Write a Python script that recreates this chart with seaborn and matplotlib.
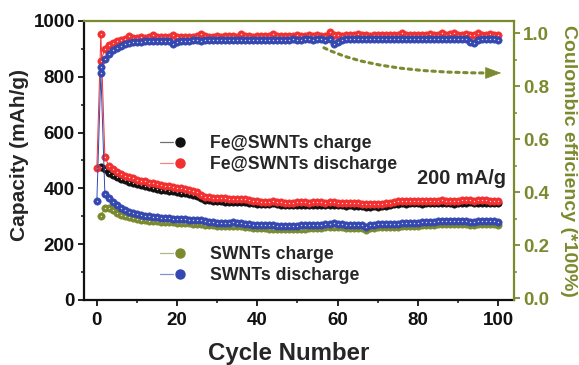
import numpy as np
import pandas as pd
import seaborn as sns
import matplotlib.pyplot as plt
from matplotlib.lines import Line2D
from matplotlib.ticker import MultipleLocator
from matplotlib.legend_handler import HandlerTuple

sns.set_style('ticks')
plt.rcParams['font.family'] = ['Liberation Sans', 'DejaVu Sans']
plt.rcParams['font.weight'] = 'bold'

olive = '#7b8a2e'
red = '#f2302f'
blue = '#3548b0'
black = '#111111'

# cycles: discharge starts at 0, charge / efficiency at 1
cycle_dis = list(range(0, 101))
cycle_ch = list(range(1, 101))

fe_dis = [474, 955, 512, 480, 468, 460, 452, 446, 441, 436,
          431, 428, 425, 421, 418, 415, 412, 409, 407, 405,
          402, 400, 398, 395, 392, 388, 376, 369, 368, 367,
          366, 365, 364, 362, 361, 362, 363, 362, 359, 356,
          354, 352, 351, 353, 355, 352, 350, 349, 348, 349,
          350, 351, 350, 349, 350, 351, 350, 349, 350, 351,
          349, 348, 347, 348, 347, 346, 345, 344, 344, 345,
          344, 345, 346, 347, 352, 354, 355, 354, 355, 356,
          355, 354, 355, 356, 355, 356, 357, 356, 355, 354,
          356, 357, 358, 360, 356, 357, 358, 357, 356, 355,
          354]

fe_ch = [477, 470, 456, 448, 441, 434, 429, 424, 419, 415,
         412, 409, 405, 402, 399, 396, 393, 391, 389, 387,
         385, 383, 380, 377, 374, 364, 358, 357, 356, 355,
         354, 353, 352, 351, 352, 353, 352, 349, 347, 345,
         344, 343, 344, 346, 344, 342, 341, 340, 341, 342,
         342, 341, 340, 341, 342, 341, 340, 341, 342, 340,
         339, 338, 339, 338, 337, 336, 335, 335, 336, 335,
         336, 337, 340, 344, 345, 346, 345, 346, 347, 346,
         345, 346, 347, 346, 347, 348, 347, 346, 345, 347,
         348, 349, 351, 348, 348, 349, 348, 347, 348, 347]

sw_dis = [355, 815, 380, 366, 351, 339, 329, 321, 316, 312,
          308, 305, 302, 300, 298, 296, 295, 294, 293, 292,
          291, 290, 289, 288, 287, 287, 286, 283, 280, 279,
          277, 276, 275, 277, 278, 277, 275, 273, 271, 270,
          269, 268, 268, 267, 267, 266, 266, 265, 265, 266,
          266, 267, 267, 268, 268, 269, 270, 271, 272, 275,
          273, 271, 270, 270, 269, 269, 268, 262, 268, 270,
          271, 271, 272, 272, 273, 274, 277, 276, 276, 277,
          277, 278, 279, 280, 281, 282, 283, 283, 282, 282,
          283, 283, 284, 280, 281, 282, 282, 283, 283, 282,
          280]

sw_ch = [301, 330, 328, 321, 313, 306, 300, 296, 293, 290,
         288, 286, 284, 283, 282, 281, 280, 279, 278, 277,
         276, 275, 275, 274, 273, 272, 270, 268, 267, 266,
         265, 264, 265, 266, 265, 264, 262, 260, 259, 258,
         257, 257, 256, 256, 255, 255, 254, 254, 255, 255,
         256, 256, 257, 257, 258, 259, 260, 261, 263, 262,
         260, 259, 259, 258, 258, 257, 252, 257, 259, 260,
         260, 261, 261, 262, 263, 265, 265, 265, 266, 266,
         267, 268, 269, 270, 271, 272, 272, 271, 271, 272,
         272, 273, 269, 270, 271, 271, 272, 272, 271, 270]

fe_ce = [0.895, 0.940, 0.955, 0.963, 0.969, 0.974, 0.978, 0.989, 0.981, 0.983,
         0.984, 0.983, 0.985, 0.993, 0.984, 0.985, 0.986, 0.985, 0.992, 0.986,
         0.987, 0.986, 0.985, 0.987, 0.988, 0.997, 0.988, 0.987, 0.986, 0.988,
         0.987, 0.988, 0.989, 0.988, 0.987, 0.996, 0.989, 0.988, 0.987, 0.989,
         0.990, 0.989, 0.988, 0.998, 0.990, 0.989, 0.990, 0.991, 0.990, 0.992,
         0.991, 0.990, 0.993, 0.991, 0.992, 0.991, 0.990, 1.006, 0.993, 0.992,
         0.991, 0.993, 0.994, 0.992, 0.998, 0.993, 0.992, 0.991, 0.993, 0.994,
         0.993, 0.992, 0.995, 0.994, 0.993, 0.999, 0.994, 0.993, 0.995, 0.994,
         0.993, 0.994, 0.996, 0.995, 0.994, 1.001, 0.995, 0.997, 1.000, 0.995,
         0.994, 0.996, 0.995, 0.993, 0.999, 0.995, 0.994, 0.996, 0.995, 0.994]

sw_ce = [0.872, 0.904, 0.923, 0.936, 0.946, 0.953, 0.958, 0.962, 0.965, 0.967,
         0.968, 0.969, 0.970, 0.970, 0.971, 0.971, 0.972, 0.972, 0.960, 0.968,
         0.971, 0.972, 0.972, 0.973, 0.973, 0.972, 0.973, 0.973, 0.974, 0.973,
         0.973, 0.974, 0.974, 0.974, 0.973, 0.974, 0.975, 0.974, 0.975, 0.975,
         0.975, 0.976, 0.975, 0.976, 0.976, 0.975, 0.976, 0.976, 0.977, 0.976,
         0.976, 0.977, 0.977, 0.976, 0.977, 0.977, 0.976, 0.977, 0.958, 0.967,
         0.975, 0.977, 0.977, 0.978, 0.977, 0.978, 0.977, 0.978, 0.978, 0.977,
         0.978, 0.978, 0.977, 0.978, 0.978, 0.979, 0.978, 0.978, 0.979, 0.978,
         0.979, 0.978, 0.979, 0.979, 0.978, 0.979, 0.979, 0.978, 0.979, 0.978,
         0.979, 0.978, 0.965, 0.962, 0.975, 0.978, 0.979, 0.978, 0.979, 0.975]

fig = plt.figure(figsize=(5.79, 3.65), dpi=100)
ax = fig.add_axes([0.1451, 0.1781, 0.7427, 0.7644])
ax2 = ax.twinx()


def draw(a, x, y, c):
    sns.lineplot(x=x, y=y, ax=a, color=c, marker='o', markersize=5.3,
                 markeredgewidth=0.4, markeredgecolor=c, linewidth=0.7,
                 sort=False, errorbar=None)
    a.plot(x, y, 'o', color='white', ms=1.0, mew=0, alpha=0.8)


draw(ax, cycle_ch, fe_ch, black)
draw(ax, cycle_dis, fe_dis, red)
draw(ax, cycle_ch, sw_ch, olive)
draw(ax, cycle_dis, sw_dis, blue)
draw(ax2, cycle_ch, fe_ce, red)
draw(ax2, cycle_ch, sw_ce, blue)

ax.set_xlim(-3.2, 104)
ax.set_ylim(0, 1000)
ax2.set_ylim(-0.006, 1.046)
ax.set_xticks(range(0, 101, 20))
ax.set_yticks(range(0, 1001, 200))
ax.xaxis.set_minor_locator(MultipleLocator(10))
ax.yaxis.set_minor_locator(MultipleLocator(100))
ax2.set_yticks([0.0, 0.2, 0.4, 0.6, 0.8, 1.0])
ax2.yaxis.set_minor_locator(MultipleLocator(0.1))

ax.tick_params(which='major', direction='out', length=4.5, width=1.3,
               labelsize=13.5, pad=2, colors=black)
ax.tick_params(which='minor', direction='out', length=2.5, width=1.1, colors=black)
ax.tick_params(axis='x', which='major', pad=4)
ax2.tick_params(which='major', direction='out', length=4.5, width=1.3,
                labelsize=13.5, pad=2, colors=olive)
ax2.tick_params(which='minor', direction='out', length=2.5, width=1.1, colors=olive)

for s in ['top', 'right']:
    ax.spines[s].set_visible(False)
for s in ['left', 'bottom']:
    ax.spines[s].set_linewidth(1.6)
    ax.spines[s].set_color(black)
    ax2.spines[s].set_visible(False)
for s in ['top', 'right']:
    ax2.spines[s].set_linewidth(1.6)
    ax2.spines[s].set_color(olive)

ax.set_xlabel('Cycle Number', fontsize=17.3, fontweight='bold', va='center')
ax.xaxis.set_label_coords(0.477, -0.19)
ax.set_ylabel('Capacity (mAh/g)', fontsize=15, fontweight='bold', va='center')
ax.yaxis.set_label_coords(-0.149, 0.52)
ax2.set_ylabel('Coulombic efficiency (*100%)', fontsize=14, fontweight='bold',
               color=olive, rotation=270, va='center')
ax2.yaxis.set_label_coords(1.1256, 0.5)

ax.text(90.8, 434, '200 mA/g', fontsize=14.4, fontweight='bold',
        ha='center', va='center')

# dotted curve pointing to the efficiency axis, then a solid head
ax2.annotate('', xy=(97.5, 0.85), xytext=(56.6, 0.945),
             arrowprops=dict(arrowstyle='-', color=olive, lw=2.2,
                             linestyle=(0, (1.1, 1.5)),
                             connectionstyle='angle3,angleA=-27,angleB=0',
                             shrinkA=0, shrinkB=0))
ax2.annotate('', xy=(100.8, 0.85), xytext=(97.0, 0.85),
             arrowprops=dict(arrowstyle='-|>,head_length=0.75,head_width=0.28',
                             mutation_scale=14, color=olive, lw=0.5,
                             shrinkA=0, shrinkB=0))


def handle(c):
    return (Line2D([], [], color=c, lw=0.9, alpha=0.6),
            Line2D([], [], ls='none', marker='o', ms=6.5, mfc=c, mec=c),
            Line2D([], [], ls='none', marker='o', ms=1.8, color='white'))


leg_kw = dict(handler_map={tuple: HandlerTuple(ndivide=None, pad=0)},
              loc='center left', frameon=False, fontsize=12.7,
              handlelength=2.27, handletextpad=0.55, labelspacing=0.22,
              borderpad=0, borderaxespad=0)
leg1 = ax2.legend([handle(black), handle(red)],
                  ['Fe@SWNTs charge', 'Fe@SWNTs discharge'],
                  bbox_to_anchor=(0.177, 0.524), **leg_kw)
ax2.add_artist(leg1)
ax2.legend([handle(olive), handle(blue)],
           ['SWNTs charge', 'SWNTs discharge'],
           bbox_to_anchor=(0.177, 0.124), **leg_kw)

plt.savefig('out.png', dpi=100)
